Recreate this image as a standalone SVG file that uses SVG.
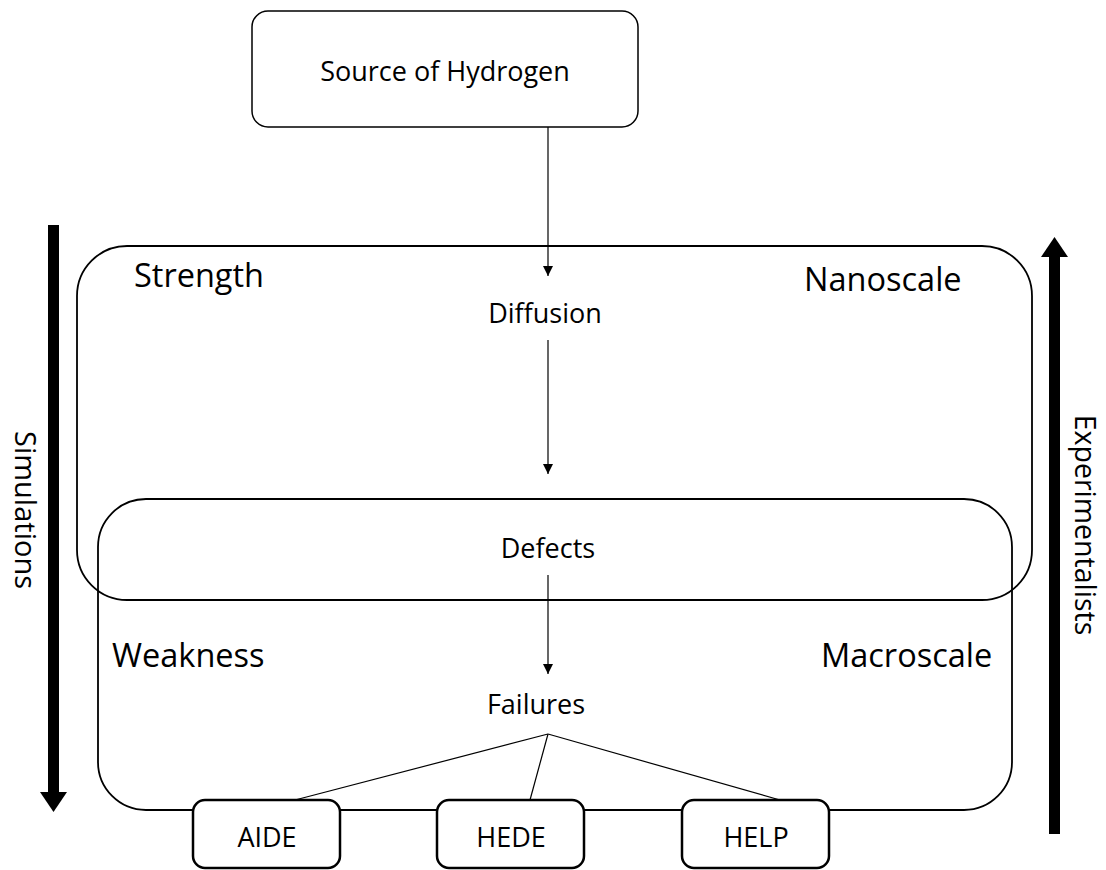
<svg xmlns="http://www.w3.org/2000/svg" width="1106" height="870" viewBox="0 0 1106 870">
<defs>
<marker id="ah" viewBox="0 0 10 10" refX="10" refY="5" markerWidth="10" markerHeight="10" markerUnits="userSpaceOnUse" orient="auto">
<path d="M0,0 L10,5 L0,10 Z" fill="#000"/>
</marker>
<style>
.t{font-family:"Open Sans","Noto Sans",sans-serif;fill:#000;}
.m{font-size:27px;text-anchor:middle;}
.c{font-size:32.5px;}
.b{fill:#fff;stroke:#000;stroke-width:1.5;}
.s{fill:#fff;stroke:#000;stroke-width:2.5;}
.cn{stroke:#000;stroke-width:1.2;fill:none;}
</style>
</defs>
<rect width="1106" height="870" fill="#fff"/>
<g id="region-nano">
<rect x="77" y="246" width="955" height="354" rx="50" ry="50" fill="none" stroke="#000" stroke-width="1.8"/>
<text class="t c" x="134" y="287">Strength</text>
<text class="t c" x="804" y="291">Nanoscale</text>
</g>
<g id="region-macro">
<rect x="98" y="499" width="914" height="311" rx="48" ry="48" fill="none" stroke="#000" stroke-width="1.8"/>
<text class="t c" x="112" y="667">Weakness</text>
<text class="t c" x="821" y="667">Macroscale</text>
</g>
<g id="source">
<rect class="b" x="252" y="11" width="386" height="116" rx="16" ry="16"/>
<text class="t m" x="445" y="81">Source of Hydrogen</text>
</g>
<g id="diffusion"><text class="t m" x="545" y="323">Diffusion</text></g>
<g id="defects"><text class="t m" x="548" y="558">Defects</text></g>
<g id="failures"><text class="t m" x="536" y="714">Failures</text></g>
<g id="aide">
<rect class="s" x="193" y="800" width="147" height="68" rx="12" ry="12"/>
<text class="t m" x="267" y="847">AIDE</text>
</g>
<g id="hede">
<rect class="s" x="437" y="800" width="147" height="68" rx="12" ry="12"/>
<text class="t m" x="511" y="847">HEDE</text>
</g>
<g id="help">
<rect class="s" x="682" y="800" width="147" height="68" rx="12" ry="12"/>
<text class="t m" x="756" y="847">HELP</text>
</g>
<g id="simulations">
<rect x="48" y="225" width="11" height="568" fill="#000"/>
<path d="M40,792 L67,792 L53.5,812 Z" fill="#000"/>
<text class="t" font-size="29" text-anchor="middle" transform="translate(15,510) rotate(90)">Simulations</text>
</g>
<g id="experimentalists">
<rect x="1049" y="256" width="11" height="578" fill="#000"/>
<path d="M1041,257 L1068,257 L1054.5,237 Z" fill="#000"/>
<text class="t" font-size="28.5" text-anchor="middle" transform="translate(1075,525) rotate(90)">Experimentalists</text>
</g>
<g id="connectors">
<line class="cn" x1="548" y1="127" x2="548" y2="276" marker-end="url(#ah)"/>
<line class="cn" x1="548" y1="340" x2="548" y2="474" marker-end="url(#ah)"/>
<line class="cn" x1="548" y1="575" x2="548" y2="674" marker-end="url(#ah)"/>
<line class="cn" x1="548" y1="734" x2="295" y2="800"/>
<line class="cn" x1="548" y1="734" x2="530" y2="800"/>
<line class="cn" x1="548" y1="734" x2="780" y2="800"/>
</g>
</svg>
